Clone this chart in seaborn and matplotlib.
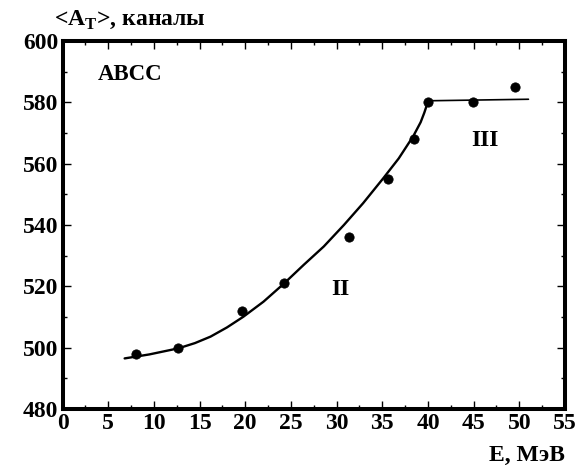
import matplotlib
matplotlib.use("Agg")
import matplotlib.pyplot as plt
import seaborn as sns
import pandas as pd
from matplotlib.ticker import MultipleLocator

# measured points
energy = [8.0, 12.6, 19.6, 24.2, 31.4, 35.6, 38.5, 40.0, 44.9, 49.5]
amp = [498.0, 500.0, 512.0, 521.0, 536.0, 555.0, 568.0, 580.0, 580.0, 585.0]

# fitted curve (region II)
curve_x = [6.8, 9.5, 12.7, 14.5, 16.2, 18.0, 19.8, 22.0, 24.2, 26.4, 28.6,
           30.8, 32.9, 35.1, 36.8, 38.4, 39.2, 39.6, 40.0]
curve_y = [496.5, 497.8, 499.8, 501.5, 503.6, 506.6, 510.1, 515.0, 520.8,
           527.0, 533.0, 540.0, 547.1, 555.2, 561.7, 569.0, 573.5, 576.6, 580.2]

# plateau (region III)
flat_x = [40.0, 51.0]
flat_y = [580.5, 581.0]

sns.set_style("ticks")
plt.rcParams["font.family"] = ["Liberation Serif", "DejaVu Serif"]
plt.rcParams["font.weight"] = "bold"
plt.rcParams["mathtext.fontset"] = "custom"
plt.rcParams["mathtext.rm"] = "Liberation Serif:bold"
for key in ["text.color", "axes.edgecolor", "xtick.color", "ytick.color",
            "axes.labelcolor"]:
    plt.rcParams[key] = "black"

fig = plt.figure(figsize=(5.87, 4.71), dpi=100)
ax = fig.add_axes([0.1065, 0.1316, 0.856, 0.7814])

df_pts = pd.DataFrame({"E": energy, "A": amp})
df_curve = pd.DataFrame({"E": curve_x, "A": curve_y})
df_flat = pd.DataFrame({"E": flat_x, "A": flat_y})

sns.lineplot(data=df_curve, x="E", y="A", sort=False, estimator=None,
             color="black", linewidth=1.7, ax=ax)
sns.lineplot(data=df_flat, x="E", y="A", sort=False, estimator=None,
             color="black", linewidth=1.2, ax=ax)
sns.scatterplot(data=df_pts, x="E", y="A", color="black", s=45,
                edgecolor="black", zorder=3, ax=ax)

ax.set_xlim(0, 55)
ax.set_ylim(480, 600)
ax.xaxis.set_major_locator(MultipleLocator(5))
ax.xaxis.set_minor_locator(MultipleLocator(2.5))
ax.yaxis.set_major_locator(MultipleLocator(20))
ax.yaxis.set_minor_locator(MultipleLocator(10))
ax.tick_params(which="both", direction="in", top=True, right=True, width=1.0,
               color="black", labelcolor="black")
ax.tick_params(which="major", length=6, labelsize=17, pad=3)
ax.tick_params(which="minor", length=3)
for lab in ax.get_xticklabels() + ax.get_yticklabels():
    lab.set_fontweight("bold")
for sp in ax.spines.values():
    sp.set_linewidth(2.9)
    sp.set_color("black")

ax.set_xlabel("")
ax.set_ylabel("")
fig.text(0.092, 0.957, "<A$_\\mathrm{T}$>, каналы", fontsize=17,
         fontweight="bold", ha="left", va="center")
fig.text(0.962, 0.033, "E, МэВ", fontsize=17, fontweight="bold",
         ha="right", va="center")

ax.text(3.9, 589, "ABCC", fontsize=16.5, fontweight="bold", ha="left", va="center")
ax.text(30.4, 519, "II", fontsize=17, fontweight="bold", ha="center", va="center")
ax.text(46.2, 567.4, "III", fontsize=17, fontweight="bold", ha="center", va="center")

fig.savefig("out.png", dpi=100)
